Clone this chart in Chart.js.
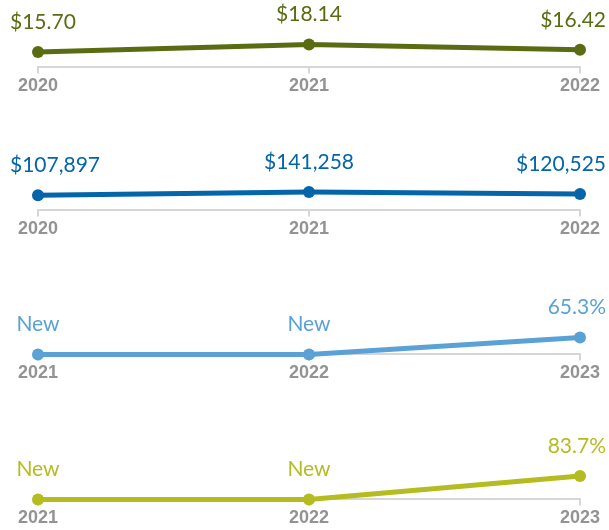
<!DOCTYPE html>
<html>
<head>
<meta charset="utf-8">
<script src="https://cdn.jsdelivr.net/npm/chart.js@4.4.0/dist/chart.umd.min.js"></script>
<style>
  html, body { margin: 0; padding: 0; background: #fff; }
  body { width: 609px; height: 530px; position: relative; overflow: hidden; }
  .panel { position: absolute; left: 0; width: 609px; height: 99px; }
</style>
</head>
<body>
<div class="panel" style="top:0px"><canvas id="priceChart"></canvas></div>
<div class="panel" style="top:143px"><canvas id="incomeChart"></canvas></div>
<div class="panel" style="top:287px"><canvas id="shareChart"></canvas></div>
<div class="panel" style="top:432px"><canvas id="rateChart"></canvas></div>
<script>
// data
var priceYears = ['2020', '2021', '2022'];
var priceValues = [15.70, 18.14, 16.42];
var priceLabels = ['$15.70', '$18.14', '$16.42'];

var incomeYears = ['2020', '2021', '2022'];
var incomeValues = [107897, 141258, 120525];
var incomeLabels = ['$107,897', '$141,258', '$120,525'];

var shareYears = ['2021', '2022', '2023'];
var shareValues = [0, 0, 65.3];
var shareLabels = ['New', 'New', '65.3%'];

var rateYears = ['2021', '2022', '2023'];
var rateValues = [0, 0, 83.7];
var rateLabels = ['New', 'New', '83.7%'];

// draws the value text above each point
var pointLabels = {
  id: 'pointLabels',
  afterDatasetsDraw: function(chart) {
    var ctx = chart.ctx;
    var ds = chart.data.datasets[0];
    var meta = chart.getDatasetMeta(0);
    ctx.save();
    ctx.font = '21px Lato';
    ctx.fillStyle = ds.borderColor;
    ctx.textAlign = 'center';
    ctx.textBaseline = 'middle';
    meta.data.forEach(function(pt, i) {
      var txt = ds.valueLabels[i];
      var w = ctx.measureText(txt).width;
      var x = Math.max(pt.x, 10 + w / 2);
      x = Math.min(x, 606 - w / 2);
      ctx.fillText(txt, x, pt.y - 30);
    });
    ctx.restore();
  }
};

function makeChart(id, years, values, labels, color, yMin, yMax) {
  var ctx = document.getElementById(id).getContext('2d');
  return new Chart(ctx, {
    type: 'line',
    data: {
      labels: years,
      datasets: [{
        data: values,
        valueLabels: labels,
        borderColor: color,
        backgroundColor: color,
        borderWidth: 5,
        pointRadius: 6,
        pointHoverRadius: 6,
        pointBorderWidth: 0,
        tension: 0,
        clip: false
      }]
    },
    options: {
      responsive: true,
      maintainAspectRatio: false,
      animation: false,
      layout: { autoPadding: false, padding: { left: 38, right: 29, top: 0, bottom: 0 } },
      plugins: {
        legend: { display: false },
        tooltip: { enabled: false }
      },
      scales: {
        x: {
          offset: false,
          border: { display: true, color: '#d6d6d6', width: 2 },
          grid: { display: true, drawOnChartArea: false, drawTicks: true, tickLength: 6, color: '#d6d6d6', lineWidth: 2 },
          ticks: {
            color: '#939393',
            padding: 2,
            maxRotation: 0,
            font: { family: 'Liberation Sans', size: 18, weight: 'bold' }
          }
        },
        y: { display: false, min: yMin, max: yMax }
      }
    },
    plugins: [pointLabels]
  });
}

makeChart('priceChart', priceYears, priceValues, priceLabels, '#5a6c12', 10.65, 32.76);
makeChart('incomeChart', incomeYears, incomeValues, incomeLabels, '#0465a8', -43750, 633620);
makeChart('shareChart', shareYears, shareValues, shareLabels, '#5aa2d6', 0, 262);
makeChart('rateChart', rateYears, rateValues, rateLabels, '#b4bc1f', 0, 241);
</script>
</body>
</html>
